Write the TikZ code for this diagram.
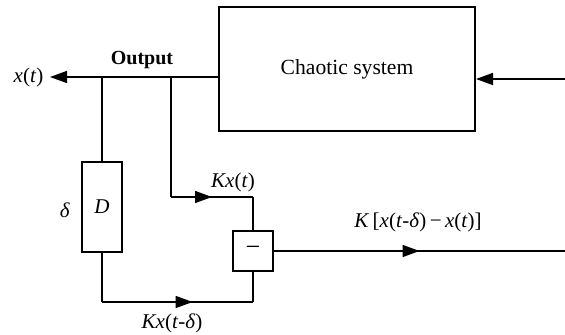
\documentclass[tikz,border=0pt]{standalone}
\usepackage{fontspec}
\setmainfont{Liberation Serif}
\usetikzlibrary{arrows.meta,decorations.markings}
\begin{document}
\begin{tikzpicture}[x=0.5pt,y=-0.5pt,
  line width=0.75pt,
  box/.style={draw,line width=1pt,inner sep=0pt,fill=white},
  lbl/.style={inner sep=0pt,font=\fontsize{10.5}{12}\selectfont},
  tip/.style={-{Triangle[length=8.5pt,width=6pt]}},
  midarrow/.style={postaction={decorate},decoration={markings,
    mark=at position #1 with {\arrow{Triangle[length=8.5pt,width=6pt]}}}}]
\useasboundingbox (0,0) rectangle (565,335);
% blocks
\node[box,minimum width=128pt,minimum height=62pt,font=\fontsize{10.8}{12}\selectfont] (cs) at (347,69) {Chaotic system};
\node[box,minimum width=20pt,minimum height=45pt] (D) at (102,207) {\fontsize{10.5}{12}\selectfont\itshape D};
\node[box,minimum width=20pt,minimum height=20pt] (m) at (253,251) {\fontsize{13}{14}\selectfont −};
% coordinates
\coordinate (xt) at (50,77);
\coordinate (j1) at (102,77);
\coordinate (j2) at (171,77);
\coordinate (c1) at (171,197);
\coordinate (c2) at (102,302);
\coordinate (rend) at (565,251);
\coordinate (in) at (565,79);
% connectors
\draw[tip] (cs.west |- xt) -- (xt);
\draw (j1) -- (D.north);
\draw (j2) -- (c1);
\draw[midarrow=0.5] (c1) -- (c1 -| m);
\draw (c1 -| m) -- (m.north);
\draw (D.south) -- (c2);
\draw[midarrow=0.6] (c2) -- (c2 -| m);
\draw (c2 -| m) -- (m.south);
\draw[midarrow=0.5] (m.east) -- (rend);
\draw[tip] (in) -- (in -| cs.east);
% labels
\node[lbl,anchor=east] (lxt) at (44,77) {\textit{x}(\textit{t})};
\node[lbl,font=\fontsize{10}{12}\selectfont\bfseries] (lout) at (142,60) {Output};
\node[lbl] (ld) at (65,210) {\textit{δ}};
\node[lbl] (lkx) at (233,182) {\textit{Kx}(\textit{t})};
\node[lbl] (lkxd) at (172,323) {\textit{Kx}(\textit{t}-\textit{δ})};
\node[lbl] (lk) at (418,222) {\textit{K}\,[\textit{x}(\textit{t}-\textit{δ})\,−\,\textit{x}(\textit{t})]};
\end{tikzpicture}
\end{document}
